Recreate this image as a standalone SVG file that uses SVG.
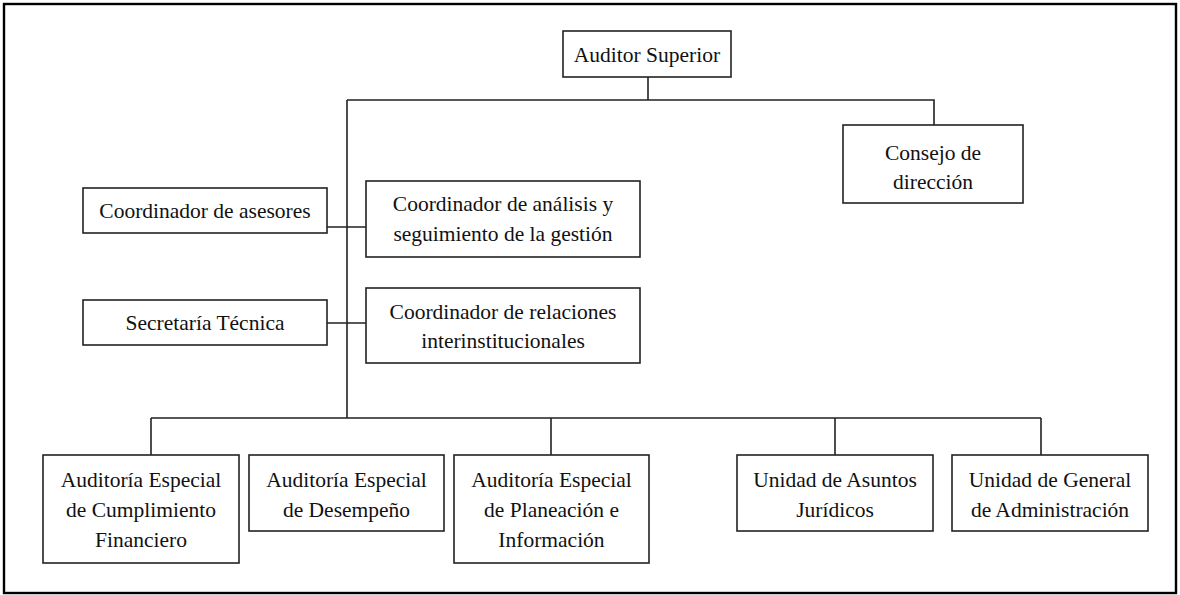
<svg xmlns="http://www.w3.org/2000/svg" width="1180" height="595" viewBox="0 0 1180 595">
<style>
.box{fill:#fff;stroke:#222;stroke-width:1.6}
.ln{fill:none;stroke:#222;stroke-width:1.6}
.t{font-family:'Liberation Serif','DejaVu Serif','Times New Roman',serif;font-size:21.5px;fill:#111;text-anchor:middle}
</style>
<rect x="0" y="0" width="1180" height="595" fill="#fff"/>
<rect x="4" y="4" width="1172" height="589" fill="none" stroke="#000" stroke-width="2.4"/>
<g id="connectors">
<path class="ln" d="M648 77V100M347 100H934V125M347 100V418M327 227H366M327 323H366M151 418H1041M151 418V455M551 418V455M835 418V455M1041 418V455"/>
</g>
<g class="t">
<g id="auditor-superior"><rect class="box" x="563" y="31" width="168" height="46"/><text x="647" y="62">Auditor Superior</text></g>
<g id="consejo"><rect class="box" x="843" y="125" width="180" height="78"/><text x="933" y="160">Consejo de</text><text x="933" y="189">dirección</text></g>
<g id="coord-asesores"><rect class="box" x="83" y="188" width="244" height="45"/><text x="205" y="218">Coordinador de asesores</text></g>
<g id="coord-analisis"><rect class="box" x="366" y="181" width="274" height="76"/><text x="503" y="211">Coordinador de análisis y</text><text x="503" y="241">seguimiento de la gestión</text></g>
<g id="secretaria"><rect class="box" x="83" y="300" width="244" height="45"/><text x="205" y="330">Secretaría Técnica</text></g>
<g id="coord-relaciones"><rect class="box" x="366" y="288" width="274" height="75"/><text x="503" y="319">Coordinador de relaciones</text><text x="503" y="348">interinstitucionales</text></g>
<g id="ae-cumplimiento"><rect class="box" x="43" y="455" width="196" height="108"/><text x="141" y="487">Auditoría Especial</text><text x="141" y="517">de Cumplimiento</text><text x="141" y="547">Financiero</text></g>
<g id="ae-desempeno"><rect class="box" x="249" y="455" width="195" height="76"/><text x="346.5" y="487">Auditoría Especial</text><text x="346.5" y="517">de Desempeño</text></g>
<g id="ae-planeacion"><rect class="box" x="454" y="455" width="195" height="108"/><text x="551.5" y="487">Auditoría Especial</text><text x="551.5" y="517">de Planeación e</text><text x="551.5" y="547">Información</text></g>
<g id="u-juridicos"><rect class="box" x="737" y="455" width="196" height="76"/><text x="835" y="487">Unidad de Asuntos</text><text x="835" y="517">Jurídicos</text></g>
<g id="u-administracion"><rect class="box" x="952" y="455" width="196" height="76"/><text x="1050" y="487">Unidad de General</text><text x="1050" y="517">de Administración</text></g>
</g>
</svg>
